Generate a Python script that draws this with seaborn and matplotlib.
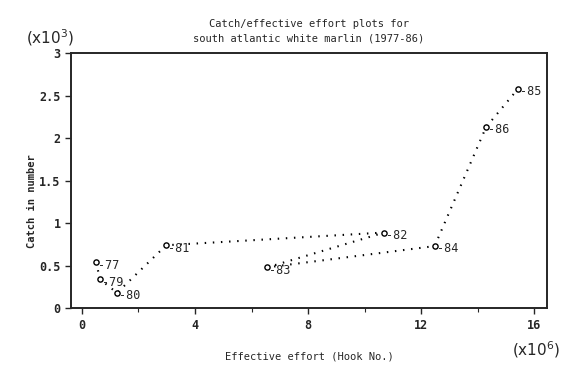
import matplotlib
matplotlib.use("Agg")
import matplotlib.pyplot as plt
import seaborn as sns
import pandas as pd

# catch / effective effort, drawn in the order of the dotted path
years = ["77", "79", "80", "81", "82", "83", "84", "86", "85"]
effort = [0.5, 0.64, 1.24, 2.98, 10.7, 6.56, 12.48, 14.3, 15.43]   # x10^6 hooks
catch = [0.54, 0.34, 0.18, 0.74, 0.89, 0.48, 0.73, 2.13, 2.58]     # x10^3 fish

xticks = [0, 4, 8, 12, 16]
yticks = [0, 0.5, 1, 1.5, 2, 2.5, 3]
ytick_labels = ["0", "0.5", "1", "1.5", "2", "2.5", "3"]

df = pd.DataFrame({"year": years, "effort": effort, "catch": catch})

sns.set_style("ticks")
plt.rcParams["font.family"] = ["DejaVu Sans Mono", "DejaVu Sans"]

fig = plt.figure(figsize=(5.72, 3.74), dpi=100)
ax = fig.add_axes([0.124, 0.176, 0.832, 0.682])

sns.lineplot(data=df, x="effort", y="catch", sort=False, color="black",
             linewidth=1.5, linestyle=(0, (0.7, 3.2)), ax=ax)
sns.scatterplot(data=df, x="effort", y="catch", marker="o", s=14,
                facecolor="white", edgecolor="black", linewidth=1.0, ax=ax, zorder=3)

for _, r in df.iterrows():
    ax.annotate("-" + r["year"], (r["effort"], r["catch"]), xytext=(1.5, -2),
                textcoords="offset points", fontsize=8.5, ha="left", va="center")

ax.set_xlim(-0.39, 16.45)
ax.set_ylim(0, 3)
ax.set_xticks(xticks)
ax.set_xticks([2, 6, 10, 14], minor=True)
ax.set_yticks(yticks)
ax.set_yticklabels(ytick_labels)
ax.tick_params(axis="both", labelsize=8.5, width=1.0, length=4, direction="out")
ax.tick_params(axis="x", which="minor", length=3, width=0.8)
for lbl in ax.get_xticklabels() + ax.get_yticklabels():
    lbl.set_fontweight("bold")
for s in ax.spines.values():
    s.set_linewidth(1.4)
    s.set_visible(True)

ax.set_xlabel("Effective effort (Hook No.)", fontsize=7.5, labelpad=14)
ax.set_ylabel("Catch in number", fontsize=7.5, fontweight="bold")
ax.yaxis.set_label_coords(-0.072, 0.42)

ax.set_title("Catch/effective effort plots for\nsouth atlantic white marlin (1977-86)",
             fontsize=7.5, linespacing=1.6, pad=8)
fig.text(0.045, 0.885, r"$(\mathrm{x}10^3)$", fontsize=11)
fig.text(0.895, 0.05, r"$(\mathrm{x}10^6)$", fontsize=11)

fig.savefig("out.png", dpi=100)
